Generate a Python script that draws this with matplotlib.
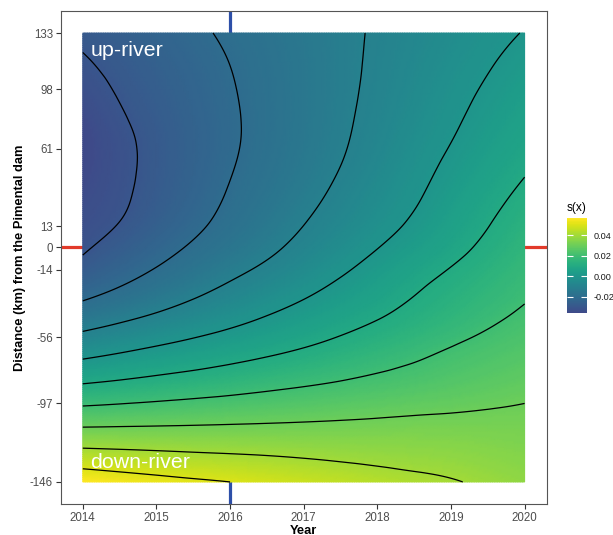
import numpy as np
import matplotlib.pyplot as plt
import matplotlib.tri as mtri
from matplotlib.colors import ListedColormap
from matplotlib.ticker import FormatStrFormatter

plt.rcParams['font.family'] = ['Liberation Sans', 'DejaVu Sans']
plt.rcParams['axes.unicode_minus'] = False

# fitted smooth s(x) on a year x distance grid (rows follow `distance`)
years = np.arange(2014, 2020.01, 0.5)
distance = np.array([133, 115, 95, 75, 55, 35, 15, -5, -25, -45, -65, -85, -105, -125, -146])
s_x = np.array([
    [-0.0285, -0.0261, -0.0237, -0.0213, -0.0189, -0.0165, -0.0140, -0.0116, -0.0092, -0.0068, -0.0044, -0.0020, 0.0003],
    [-0.0307, -0.0280, -0.0253, -0.0226, -0.0199, -0.0172, -0.0144, -0.0116, -0.0089, -0.0061, -0.0034, -0.0006, 0.0021],
    [-0.0330, -0.0296, -0.0266, -0.0236, -0.0206, -0.0176, -0.0145, -0.0115, -0.0084, -0.0053, -0.0021, 0.0010, 0.0041],
    [-0.0352, -0.0311, -0.0277, -0.0243, -0.0210, -0.0177, -0.0144, -0.0111, -0.0077, -0.0042, -0.0008, 0.0027, 0.0061],
    [-0.0356, -0.0318, -0.0281, -0.0244, -0.0207, -0.0172, -0.0138, -0.0103, -0.0066, -0.0028, 0.0009, 0.0047, 0.0084],
    [-0.0345, -0.0313, -0.0276, -0.0236, -0.0196, -0.0160, -0.0124, -0.0087, -0.0049, -0.0012, 0.0029, 0.0071, 0.0112],
    [-0.0328, -0.0299, -0.0258, -0.0217, -0.0178, -0.0140, -0.0102, -0.0065, -0.0028, 0.0010, 0.0053, 0.0096, 0.0138],
    [-0.0300, -0.0259, -0.0219, -0.0180, -0.0143, -0.0107, -0.0069, -0.0031, 0.0008, 0.0047, 0.0085, 0.0124, 0.0163],
    [-0.0237, -0.0199, -0.0162, -0.0125, -0.0089, -0.0055, -0.0021, 0.0015, 0.0052, 0.0090, 0.0124, 0.0156, 0.0186],
    [-0.0141, -0.0111, -0.0081, -0.0051, -0.0022, 0.0008, 0.0038, 0.0069, 0.0099, 0.0129, 0.0158, 0.0188, 0.0215],
    [-0.0028, -0.0005, 0.0018, 0.0040, 0.0063, 0.0086, 0.0109, 0.0133, 0.0158, 0.0182, 0.0207, 0.0228, 0.0246],
    [0.0100, 0.0115, 0.0131, 0.0146, 0.0161, 0.0177, 0.0192, 0.0207, 0.0222, 0.0236, 0.0251, 0.0265, 0.0279],
    [0.0247, 0.0253, 0.0259, 0.0265, 0.0271, 0.0277, 0.0283, 0.0289, 0.0295, 0.0301, 0.0305, 0.0309, 0.0312],
    [0.0400, 0.0395, 0.0390, 0.0385, 0.0381, 0.0377, 0.0372, 0.0367, 0.0363, 0.0359, 0.0354, 0.0346, 0.0338],
    [0.0565, 0.0545, 0.0528, 0.0513, 0.0500, 0.0484, 0.0468, 0.0451, 0.0434, 0.0420, 0.0406, 0.0386, 0.0368],
])

contour_levels = [-0.03, -0.02, -0.01, 0.0, 0.01, 0.02, 0.03, 0.04, 0.05]
year_ticks = [2014, 2015, 2016, 2017, 2018, 2019, 2020]
dist_ticks = [133, 98, 61, 13, 0, -14, -56, -97, -146]
cbar_ticks = [-0.02, 0.0, 0.02, 0.04]
dam_year = 2016
dam_distance = 0

# grid -> triangles (in unit square so the cubic smoother isn't skewed)
X, Y = np.meshgrid(years, distance)
u = (X - years.min()) / np.ptp(years)
v = (Y - distance.min()) / np.ptp(distance)
ny, nx = X.shape
tris = []
for i in range(ny - 1):
    for j in range(nx - 1):
        a = i * nx + j
        tris.append([a, a + 1, a + nx])
        tris.append([a + 1, a + nx + 1, a + nx])
tri = mtri.Triangulation(u.ravel(), v.ravel(), tris)
fine, z_fine = mtri.UniformTriRefiner(tri).refine_field(s_x.ravel(), subdiv=4)
tri_data = mtri.Triangulation(years.min() + fine.x * np.ptp(years),
                              distance.min() + fine.y * np.ptp(distance),
                              fine.triangles)

cmap = ListedColormap(plt.cm.viridis(np.linspace(0.22, 1.0, 256)))

W, H = 613, 535
fig = plt.figure(figsize=(W / 100, H / 100), dpi=100)
ax = fig.add_axes([60.7 / W, (H - 504.4) / H, 486 / W, 493.8 / H])

ax.axvline(dam_year, color='#2D4FA8', lw=2.3, zorder=0.5)
ax.axhline(dam_distance, color='#E23A2A', lw=2.3, zorder=0.5)

mesh = ax.tripcolor(tri_data, z_fine, shading='gouraud', cmap=cmap,
                    vmin=s_x.min(), vmax=s_x.max(), zorder=1)
ax.tricontour(tri_data, z_fine, levels=contour_levels, colors='black',
              linestyles='solid', linewidths=0.9, zorder=2)

ax.text(2014.1, 118.7, 'up-river', color='white', fontsize=15.4,
        ha='left', va='baseline', zorder=3)
ax.text(2014.1, -137.2, 'down-river', color='white', fontsize=15.4,
        ha='left', va='baseline', zorder=3)

pad_x = 0.05 * (years.max() - years.min())
pad_y = 0.05 * (distance.max() - distance.min())
ax.set_xlim(years.min() - pad_x, years.max() + pad_x)
ax.set_ylim(distance.min() - pad_y, distance.max() + pad_y)
ax.set_xticks(year_ticks)
ax.set_yticks(dist_ticks)
ax.tick_params(length=3.5, width=0.8, color='#333333', labelsize=8.3,
               labelcolor='#4D4D4D', pad=2)
for sp in ax.spines.values():
    sp.set_color('#555555')
    sp.set_linewidth(0.8)

fig.text(303 / W, 1.5 / H, 'Year', fontsize=9.3, fontweight='bold',
         ha='center', va='baseline')
fig.text(20 / W, (H - 257.5) / H, 'Distance (km) from the Pimental dam',
         fontsize=9.3, fontweight='bold', rotation=90, ha='center', va='center')

# legend bar
cax = fig.add_axes([567 / W, (H - 313) / H, 20 / W, 95 / H])
cbar = fig.colorbar(mesh, cax=cax, ticks=cbar_ticks)
cbar.outline.set_visible(False)
cbar.ax.yaxis.set_major_formatter(FormatStrFormatter('%.2f'))
cax.tick_params(direction='in', length=4, width=0.8, colors='white',
                left=True, right=True, labelcolor='#1A1A1A', labelsize=6.6, pad=4.5)
fig.text(567 / W, (H - 208) / H, 's(x)', fontsize=8.6, ha='left', va='center')

fig.savefig('out.png', dpi=100)
